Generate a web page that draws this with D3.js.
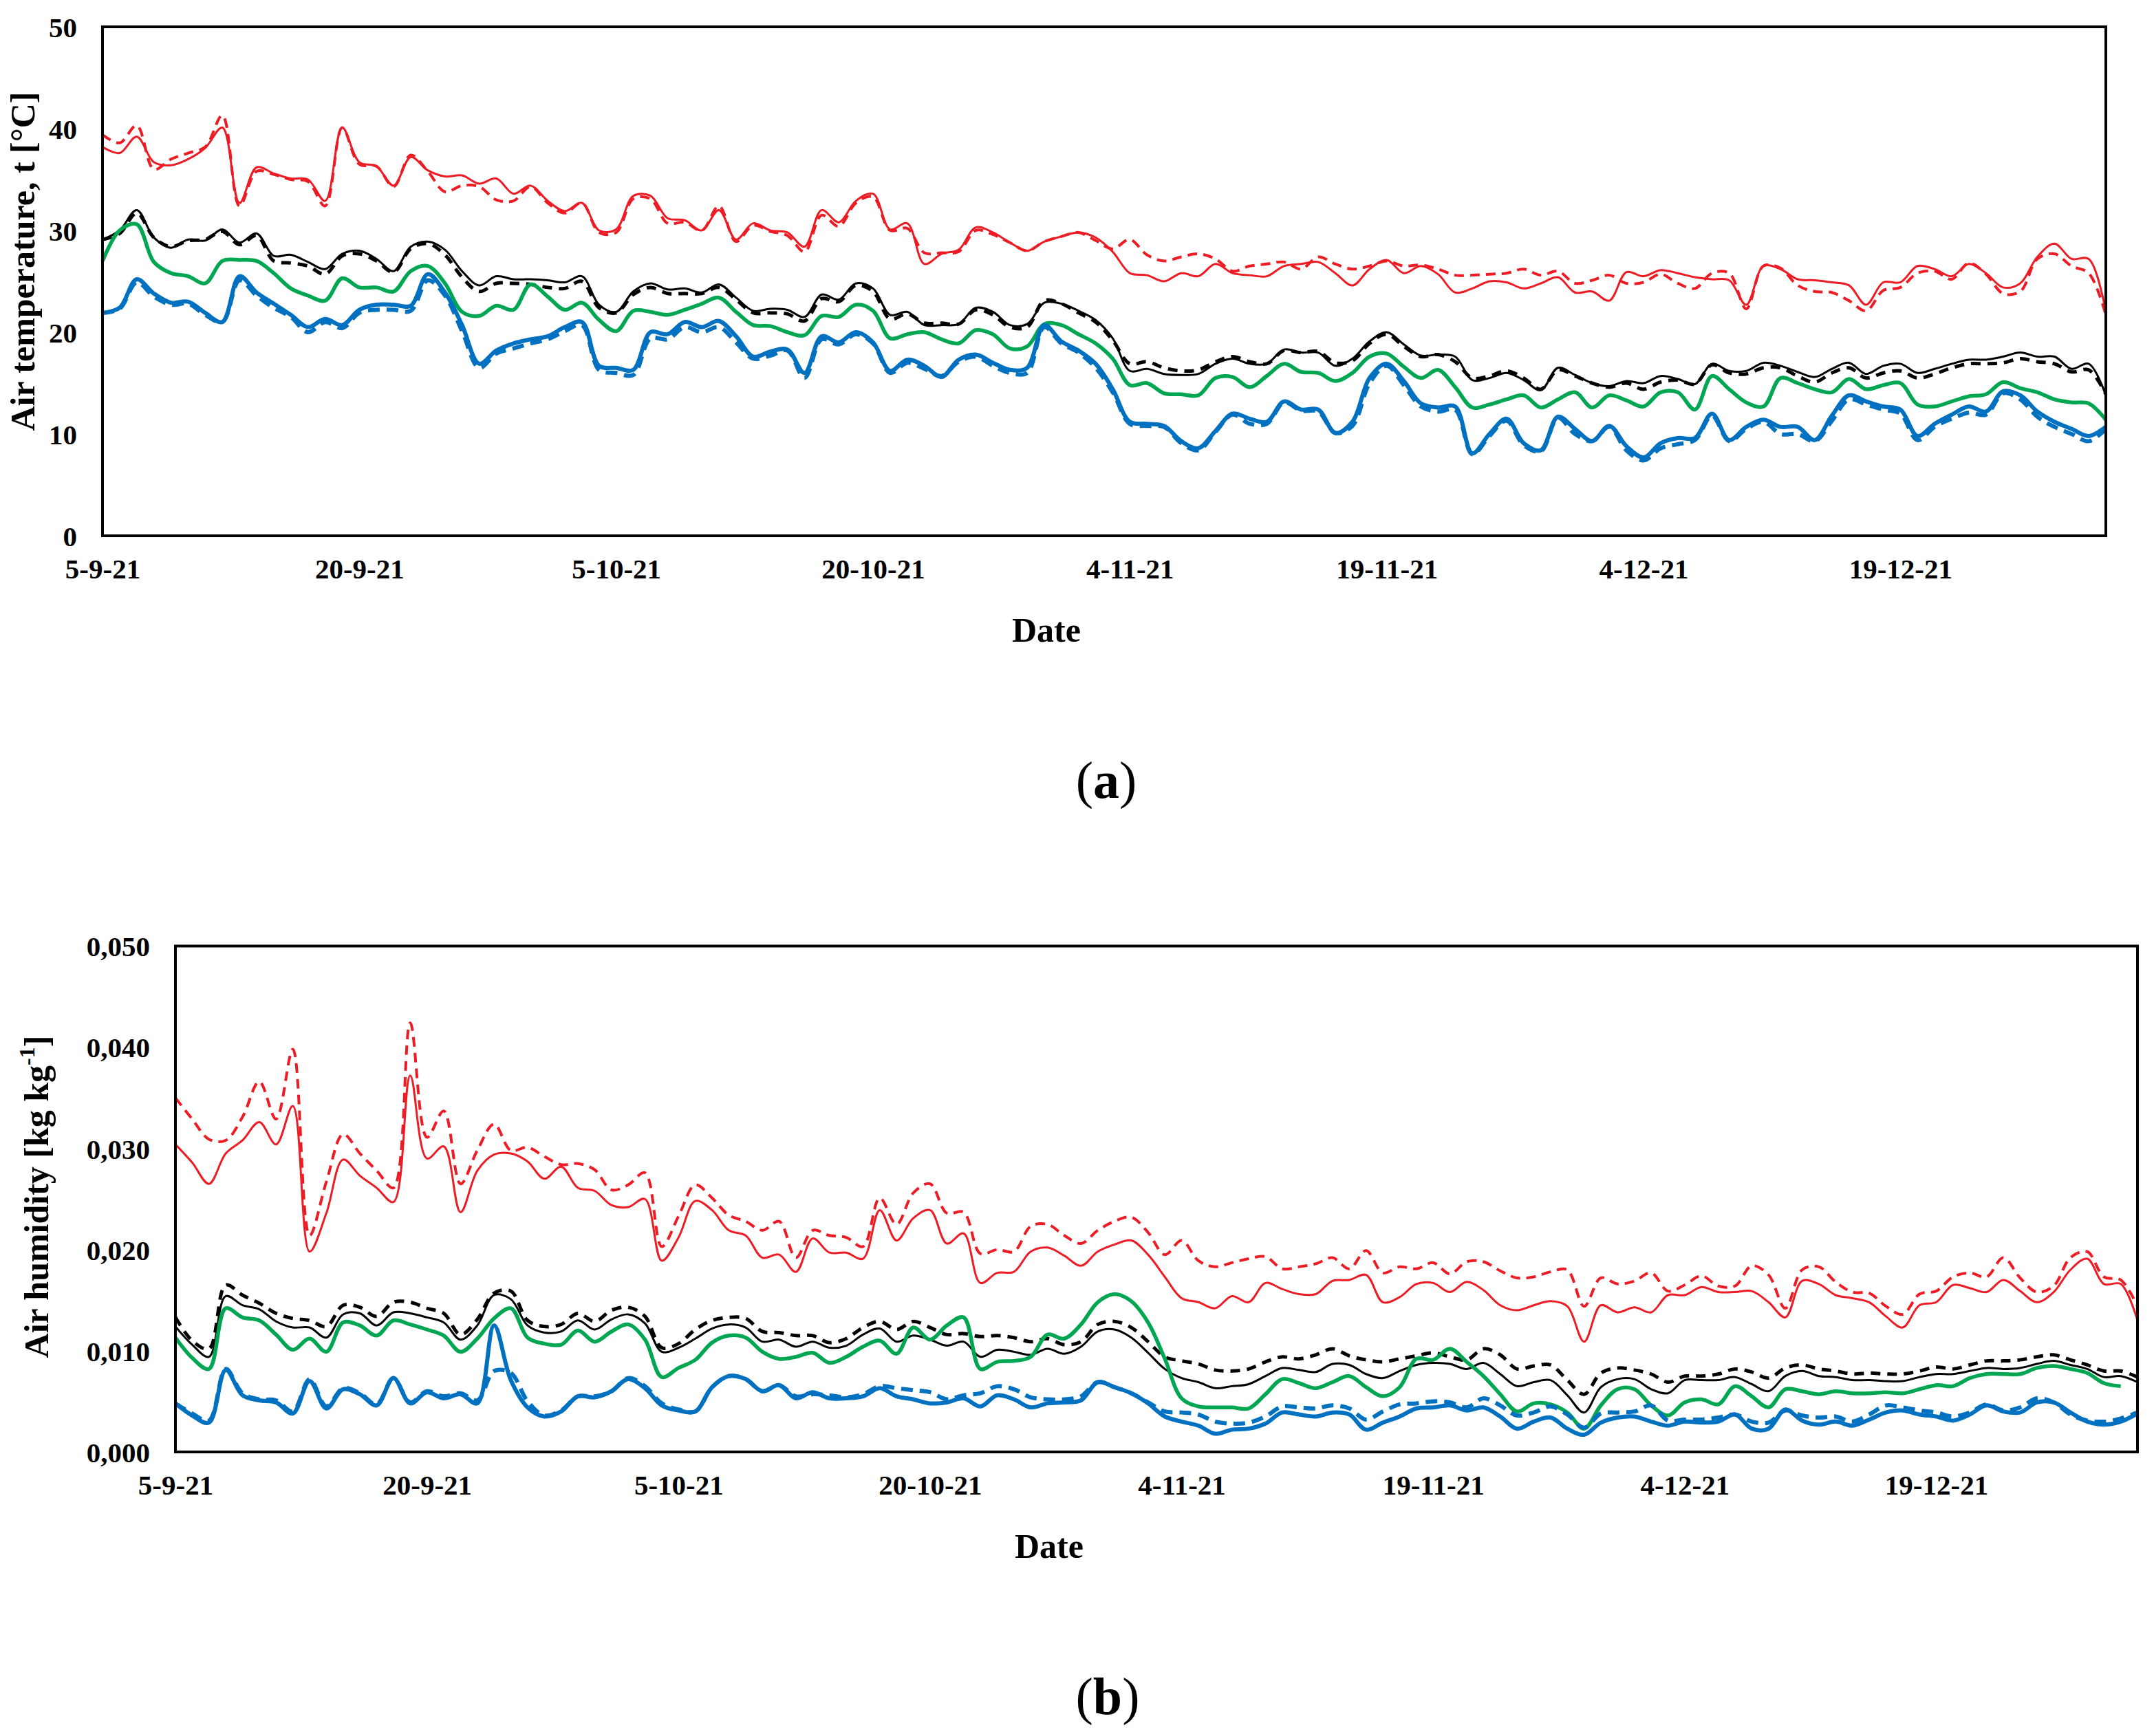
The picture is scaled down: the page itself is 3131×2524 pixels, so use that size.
<!DOCTYPE html>
<html><head><meta charset="utf-8">
<script src="https://cdn.jsdelivr.net/npm/d3@7"></script>
<style>
html,body{margin:0;padding:0;background:#fff;}
svg{display:block;}
text{font-family:"Liberation Serif","Times New Roman",serif;font-weight:bold;fill:#000;}
</style>
</head><body>
<svg id="chart" width="3131" height="2524"></svg>
<script>
// ---------- categories / ticks ----------
const startDate = "5-9-21";
const tickLabels = ["5-9-21","20-9-21","5-10-21","20-10-21","4-11-21","19-11-21","4-12-21","19-12-21"];
const endDate = "31-12-21";
const tempTicks = [0,10,20,30,40,50];
const humTicks = [0,0.01,0.02,0.03,0.04,0.05];

// ---------- (a) air temperature [°C], daily ----------
const tempRedSolid = [38.2,37.6,39.2,36.7,36.4,37.0,38.1,40.1,32.7,36.2,35.6,35.1,35.0,32.9,40.1,36.7,36.3,34.4,37.2,35.9,35.3,35.4,34.6,35.1,33.6,34.4,32.9,31.9,32.7,30.0,30.1,33.4,33.4,31.2,31.0,30.0,32.0,29.1,30.7,30.0,29.8,28.4,32.0,30.8,32.9,33.6,30.1,30.7,26.7,27.7,28.1,30.3,29.8,28.8,28.0,28.9,29.4,29.8,29.3,27.9,25.8,25.6,25.0,25.8,25.5,26.7,25.8,25.6,25.5,26.5,26.7,26.9,25.8,24.6,26.2,27.1,25.8,26.5,25.7,23.9,24.3,25.0,24.9,24.3,24.8,25.4,23.9,24.0,23.1,25.9,25.5,26.1,25.8,25.4,25.2,25.1,22.7,26.5,26.2,25.2,25.1,24.9,24.6,22.7,24.9,24.9,26.5,26.2,25.5,26.7,25.8,24.4,24.8,27.4,28.7,27.2,27.2,22.0];
const tempRedDashed = [39.4,38.6,40.3,36.0,37.0,37.6,38.2,41.3,32.4,35.8,35.5,35.0,34.8,32.4,40.1,36.5,36.3,34.3,37.4,35.8,33.8,34.4,34.3,33.0,32.9,34.3,32.7,31.7,32.7,29.8,29.8,33.1,33.1,30.7,30.8,30.0,32.4,28.9,30.5,29.9,29.5,27.9,31.5,30.4,32.7,33.3,30.0,30.2,27.8,27.8,27.9,30.0,29.6,28.8,28.0,28.9,29.4,29.8,29.0,28.2,29.1,27.6,27.0,27.4,27.7,27.2,26.0,26.5,26.7,26.9,26.2,27.4,26.7,26.2,26.5,27.0,26.5,26.6,26.2,25.6,25.6,25.7,25.8,26.2,25.6,26.0,24.8,25.1,25.6,24.8,24.9,25.7,24.8,24.3,25.8,25.8,22.3,26.5,26.3,24.6,24.0,23.9,23.1,22.1,24.1,24.4,25.8,26.0,25.2,26.8,25.7,23.8,24.0,27.2,27.7,26.5,25.8,21.7];
const tempBlackSolid = [29.1,30.0,32.0,29.3,28.3,29.1,29.0,30.1,28.8,29.7,27.5,27.6,26.9,26.2,27.7,28.0,27.2,26.0,28.4,28.9,28.1,26.0,24.6,25.5,25.2,25.2,25.1,24.9,25.5,22.7,22.0,24.0,24.8,24.2,24.3,23.9,24.7,23.4,22.1,22.3,22.2,21.5,23.7,23.2,24.8,24.3,21.7,22.0,20.7,20.7,20.8,22.4,22.0,20.7,20.8,22.9,22.8,22.1,21.2,19.4,16.2,16.4,15.9,15.8,15.9,16.9,17.4,16.9,16.9,18.3,18.0,18.0,16.7,17.4,19.1,20.0,18.8,17.7,17.8,17.6,15.3,15.5,16.0,15.3,14.3,16.5,15.8,15.0,14.7,15.2,15.0,15.7,15.4,14.9,16.9,16.2,16.2,17.0,16.7,16.1,15.6,16.4,17.0,15.9,16.7,16.9,16.0,16.4,16.9,17.3,17.3,17.6,18.0,17.6,17.6,16.4,16.9,13.8];
const tempBlackDashed = [29.1,29.7,31.7,29.3,28.4,29.0,29.1,29.9,28.6,29.5,27.0,26.8,26.5,25.7,27.5,27.7,27.0,25.9,28.2,28.7,27.6,25.4,24.0,24.8,24.8,24.7,24.4,24.3,25.0,22.4,21.9,23.7,24.4,23.8,23.8,23.8,24.4,23.2,21.9,21.9,21.8,21.1,23.3,23.0,24.6,24.0,21.3,21.8,20.9,20.9,20.8,22.2,21.7,20.5,20.5,23.1,22.8,21.9,21.0,19.2,16.9,17.1,16.5,16.2,16.3,17.1,17.6,17.1,16.9,18.2,18.0,18.1,17.0,17.2,18.9,19.8,18.6,17.6,17.8,17.1,15.5,15.7,16.2,15.5,14.4,16.3,15.7,15.0,14.6,15.0,14.4,15.1,15.3,14.9,16.8,16.0,15.9,16.5,16.5,15.7,15.1,16.0,16.5,15.5,16.0,16.2,15.5,15.9,16.5,16.9,16.9,17.0,17.4,17.1,16.9,16.1,16.3,13.9];
const tempGreen = [27.0,30.0,30.6,26.9,25.8,25.5,24.8,27.0,27.1,27.0,25.8,24.3,23.6,23.1,25.3,24.4,24.4,24.0,26.0,26.5,24.8,22.0,21.6,22.6,22.2,24.7,23.5,22.2,22.9,21.2,20.1,22.1,22.0,21.7,22.2,22.8,23.4,22.0,20.7,20.6,20.0,19.7,21.6,21.5,22.7,22.1,19.4,19.8,20.0,19.3,18.9,20.2,19.8,18.4,18.6,20.8,20.7,19.8,18.9,17.4,14.8,15.0,14.0,13.9,13.8,15.5,15.6,14.6,15.7,16.9,16.1,16.0,15.2,16.0,17.6,17.9,16.6,15.5,16.3,14.6,12.6,12.9,13.4,13.8,12.6,13.4,14.1,12.6,13.8,13.3,12.7,14.1,14.1,12.4,15.7,14.4,13.1,12.7,15.5,15.0,14.4,14.1,15.4,14.4,14.8,15.0,12.9,12.7,13.2,13.7,13.9,15.1,14.5,14.1,13.4,13.1,13.0,11.4];
const tempBlueSolid = [21.9,22.4,25.2,23.8,22.9,23.0,21.9,21.0,25.5,23.9,22.8,21.7,20.5,21.3,20.7,22.2,22.7,22.7,22.6,25.7,23.9,20.7,16.9,18.2,18.9,19.3,19.6,20.5,21.0,16.7,16.5,16.3,20.0,19.8,21.0,20.5,21.1,19.6,17.6,18.1,18.3,16.0,19.6,19.0,20.0,19.0,16.2,17.3,16.7,15.6,17.3,17.8,17.0,16.3,16.5,20.7,19.1,18.2,16.9,14.4,11.2,11.0,10.8,9.3,8.6,10.3,12.0,11.5,11.2,13.2,12.4,12.4,10.1,11.2,15.5,16.9,15.2,13.0,12.6,12.7,8.1,10.0,11.5,9.1,8.4,11.7,10.5,9.3,10.8,8.8,7.7,9.1,9.6,9.6,12.0,9.4,10.7,11.4,10.7,10.7,9.4,11.8,13.8,13.2,12.7,12.4,9.8,11.0,11.9,12.7,12.2,14.2,13.8,12.2,11.2,10.5,9.8,10.7];
const tempBlueDashed = [21.9,22.3,24.9,23.5,22.7,22.8,21.7,21.0,25.1,23.6,22.4,21.5,20.0,21.0,20.4,21.9,22.2,22.2,22.1,25.1,23.6,20.1,16.5,17.9,18.4,18.9,19.3,20.1,20.7,16.3,16.0,15.8,19.4,19.3,20.5,20.0,20.5,19.0,17.4,17.7,18.2,15.5,19.3,18.8,19.8,18.9,16.0,17.0,16.4,15.7,17.1,17.6,16.7,16.0,16.0,20.5,18.9,18.0,16.5,14.1,11.0,10.8,10.7,9.1,8.4,10.2,11.9,11.0,11.0,13.1,12.3,12.2,10.1,10.8,15.0,16.7,14.8,12.7,12.2,12.4,8.0,9.8,11.3,8.9,8.3,11.6,10.0,9.3,10.7,8.4,7.4,8.6,9.0,9.4,11.8,9.3,10.5,11.2,10.0,10.0,9.3,11.3,13.4,12.9,12.4,12.0,9.4,10.7,11.5,12.1,11.9,14.0,13.4,11.7,10.7,10.0,9.3,10.5];

// ---------- (b) air humidity [kg/kg], daily ----------
const humRedSolid = [0.0304,0.0286,0.0265,0.0295,0.0308,0.0326,0.0304,0.0342,0.0198,0.0236,0.0289,0.0273,0.0261,0.0247,0.0372,0.0290,0.0302,0.0237,0.0278,0.0294,0.0295,0.0287,0.0270,0.0282,0.0261,0.0258,0.0244,0.0242,0.0250,0.0189,0.0212,0.0248,0.0239,0.0219,0.0214,0.0192,0.0195,0.0178,0.0211,0.0197,0.0197,0.0191,0.0239,0.0209,0.0231,0.0239,0.0206,0.0216,0.0167,0.0177,0.0178,0.0198,0.0202,0.0194,0.0184,0.0198,0.0205,0.0209,0.0195,0.0173,0.0152,0.0148,0.0142,0.0154,0.0148,0.0167,0.0161,0.0156,0.0156,0.0169,0.0170,0.0175,0.0148,0.0153,0.0166,0.0167,0.0158,0.0168,0.0160,0.0145,0.0140,0.0145,0.0149,0.0144,0.0109,0.0145,0.0138,0.0143,0.0138,0.0155,0.0155,0.0163,0.0158,0.0158,0.0159,0.0148,0.0133,0.0169,0.0166,0.0155,0.0152,0.0148,0.0134,0.0123,0.0145,0.0148,0.0165,0.0162,0.0158,0.0170,0.0159,0.0148,0.0158,0.0180,0.0191,0.0166,0.0166,0.0130];
const humRedDashed = [0.0350,0.0329,0.0309,0.0308,0.0331,0.0366,0.0329,0.0398,0.0214,0.0267,0.0314,0.0295,0.0278,0.0261,0.0424,0.0311,0.0337,0.0265,0.0298,0.0324,0.0298,0.0301,0.0292,0.0284,0.0285,0.0279,0.0259,0.0264,0.0276,0.0203,0.0233,0.0264,0.0251,0.0234,0.0228,0.0219,0.0228,0.0192,0.0219,0.0214,0.0212,0.0203,0.0251,0.0225,0.0256,0.0265,0.0236,0.0237,0.0196,0.0200,0.0198,0.0223,0.0225,0.0214,0.0206,0.0219,0.0228,0.0232,0.0217,0.0195,0.0209,0.0189,0.0183,0.0187,0.0191,0.0193,0.0181,0.0183,0.0186,0.0192,0.0181,0.0199,0.0177,0.0183,0.0181,0.0187,0.0176,0.0188,0.0188,0.0179,0.0172,0.0173,0.0178,0.0180,0.0144,0.0172,0.0166,0.0169,0.0177,0.0159,0.0165,0.0174,0.0164,0.0164,0.0184,0.0175,0.0142,0.0180,0.0183,0.0168,0.0158,0.0157,0.0144,0.0136,0.0156,0.0159,0.0173,0.0177,0.0173,0.0192,0.0172,0.0158,0.0164,0.0192,0.0198,0.0173,0.0170,0.0144];
const humBlackSolid = [0.0124,0.0106,0.0094,0.0154,0.0145,0.0141,0.0129,0.0123,0.0123,0.0113,0.0136,0.0137,0.0125,0.0138,0.0137,0.0133,0.0128,0.0111,0.0125,0.0155,0.0151,0.0125,0.0118,0.0119,0.0130,0.0121,0.0131,0.0136,0.0127,0.0099,0.0103,0.0112,0.0122,0.0126,0.0123,0.0109,0.0111,0.0104,0.0109,0.0103,0.0105,0.0116,0.0122,0.0109,0.0115,0.0111,0.0105,0.0109,0.0094,0.0101,0.0099,0.0096,0.0102,0.0097,0.0104,0.0119,0.0121,0.0113,0.0098,0.0082,0.0073,0.0069,0.0063,0.0065,0.0067,0.0075,0.0083,0.0081,0.0079,0.0087,0.0086,0.0077,0.0073,0.0080,0.0086,0.0088,0.0087,0.0082,0.0088,0.0077,0.0065,0.0069,0.0071,0.0056,0.0039,0.0064,0.0072,0.0072,0.0062,0.0058,0.0071,0.0071,0.0071,0.0074,0.0067,0.0060,0.0075,0.0080,0.0075,0.0074,0.0071,0.0071,0.0070,0.0070,0.0074,0.0077,0.0077,0.0080,0.0083,0.0082,0.0083,0.0087,0.0090,0.0086,0.0082,0.0074,0.0075,0.0069];
const humBlackDashed = [0.0133,0.0110,0.0102,0.0165,0.0155,0.0147,0.0137,0.0132,0.0130,0.0124,0.0145,0.0143,0.0134,0.0148,0.0148,0.0142,0.0137,0.0116,0.0131,0.0157,0.0159,0.0130,0.0124,0.0126,0.0137,0.0129,0.0140,0.0143,0.0134,0.0103,0.0107,0.0121,0.0130,0.0133,0.0132,0.0119,0.0118,0.0115,0.0115,0.0108,0.0112,0.0123,0.0129,0.0121,0.0129,0.0123,0.0116,0.0117,0.0114,0.0115,0.0113,0.0109,0.0112,0.0106,0.0109,0.0126,0.0129,0.0123,0.0109,0.0094,0.0090,0.0087,0.0081,0.0080,0.0082,0.0089,0.0094,0.0092,0.0096,0.0102,0.0095,0.0091,0.0089,0.0092,0.0095,0.0098,0.0094,0.0091,0.0102,0.0096,0.0082,0.0085,0.0086,0.0071,0.0057,0.0078,0.0083,0.0081,0.0077,0.0069,0.0075,0.0075,0.0077,0.0082,0.0079,0.0073,0.0083,0.0086,0.0082,0.0080,0.0077,0.0078,0.0077,0.0077,0.0080,0.0084,0.0082,0.0086,0.0090,0.0090,0.0091,0.0094,0.0096,0.0091,0.0086,0.0080,0.0080,0.0074];
const humGreen = [0.0113,0.0093,0.0082,0.0142,0.0133,0.0130,0.0116,0.0101,0.0112,0.0099,0.0128,0.0125,0.0115,0.0130,0.0126,0.0121,0.0115,0.0099,0.0112,0.0132,0.0142,0.0113,0.0107,0.0106,0.0120,0.0109,0.0119,0.0126,0.0111,0.0074,0.0083,0.0091,0.0108,0.0115,0.0113,0.0099,0.0092,0.0094,0.0098,0.0088,0.0094,0.0104,0.0110,0.0097,0.0123,0.0111,0.0125,0.0133,0.0082,0.0089,0.0090,0.0094,0.0116,0.0112,0.0126,0.0148,0.0156,0.0149,0.0128,0.0092,0.0053,0.0045,0.0044,0.0044,0.0043,0.0057,0.0072,0.0068,0.0063,0.0069,0.0075,0.0064,0.0055,0.0064,0.0092,0.0091,0.0102,0.0089,0.0075,0.0057,0.0040,0.0048,0.0047,0.0039,0.0023,0.0046,0.0062,0.0062,0.0046,0.0036,0.0049,0.0052,0.0047,0.0065,0.0055,0.0044,0.0062,0.0060,0.0057,0.0060,0.0058,0.0058,0.0059,0.0058,0.0062,0.0066,0.0065,0.0073,0.0077,0.0077,0.0077,0.0083,0.0085,0.0082,0.0078,0.0068,0.0065];
const humBlueSolid = [0.0048,0.0036,0.0029,0.0081,0.0056,0.0051,0.0049,0.0038,0.0070,0.0043,0.0062,0.0057,0.0046,0.0073,0.0048,0.0059,0.0053,0.0057,0.0048,0.0125,0.0071,0.0044,0.0035,0.0040,0.0055,0.0054,0.0060,0.0072,0.0063,0.0046,0.0041,0.0040,0.0064,0.0075,0.0072,0.0060,0.0066,0.0053,0.0059,0.0053,0.0053,0.0055,0.0063,0.0055,0.0052,0.0048,0.0049,0.0053,0.0045,0.0056,0.0052,0.0044,0.0048,0.0049,0.0051,0.0069,0.0064,0.0058,0.0048,0.0035,0.0030,0.0026,0.0018,0.0022,0.0023,0.0028,0.0039,0.0037,0.0035,0.0039,0.0037,0.0022,0.0029,0.0035,0.0043,0.0044,0.0046,0.0041,0.0044,0.0035,0.0023,0.0030,0.0034,0.0023,0.0017,0.0029,0.0034,0.0035,0.0030,0.0026,0.0030,0.0029,0.0030,0.0037,0.0023,0.0023,0.0042,0.0031,0.0027,0.0030,0.0026,0.0032,0.0039,0.0041,0.0037,0.0035,0.0031,0.0037,0.0046,0.0040,0.0039,0.0049,0.0049,0.0039,0.0030,0.0027,0.0030,0.0038];
const humBlueDashed = [0.0048,0.0038,0.0031,0.0082,0.0058,0.0052,0.0051,0.0040,0.0072,0.0045,0.0063,0.0058,0.0047,0.0073,0.0049,0.0060,0.0055,0.0058,0.0051,0.0080,0.0078,0.0050,0.0036,0.0041,0.0055,0.0055,0.0060,0.0073,0.0065,0.0048,0.0042,0.0040,0.0064,0.0075,0.0072,0.0060,0.0066,0.0055,0.0057,0.0056,0.0054,0.0057,0.0065,0.0063,0.0061,0.0059,0.0052,0.0056,0.0058,0.0065,0.0062,0.0054,0.0052,0.0052,0.0055,0.0069,0.0064,0.0058,0.0049,0.0040,0.0039,0.0037,0.0030,0.0028,0.0029,0.0035,0.0045,0.0044,0.0043,0.0046,0.0043,0.0032,0.0040,0.0047,0.0048,0.0050,0.0049,0.0044,0.0053,0.0046,0.0036,0.0039,0.0045,0.0037,0.0024,0.0038,0.0039,0.0040,0.0046,0.0031,0.0032,0.0032,0.0034,0.0037,0.0030,0.0029,0.0041,0.0036,0.0034,0.0035,0.0030,0.0037,0.0046,0.0044,0.0041,0.0039,0.0035,0.0039,0.0047,0.0041,0.0044,0.0053,0.0049,0.0037,0.0031,0.0030,0.0033,0.0039];

// ---------- helpers ----------
const parseD = d3.utcParse("%d-%m-%y");
const t0 = parseD(startDate), t1 = parseD(endDate);
const tickDates = tickLabels.map(parseD);
const dayOf = i => d3.utcDay.offset(t0, i);

const RED = "#ED1C24", BLACK = "#000000", GREEN = "#00A651", BLUE = "#0070C0";
const styles = {
  redS:   {color: RED,   width: 3,   dash: null},
  redD:   {color: RED,   width: 4,   dash: "14,9"},
  blackS: {color: BLACK, width: 3,   dash: null},
  blackD: {color: BLACK, width: 5,   dash: "14,10"},
  green:  {color: GREEN, width: 5.5, dash: null},
  blueS:  {color: BLUE,  width: 6,   dash: null},
  blueD:  {color: BLUE,  width: 6,   dash: "17,10"}
};

const svg = d3.select("#chart");
svg.append("rect").attr("width", 3131).attr("height", 2524).attr("fill", "#fff");

function drawChart(cfg) {
  const g = svg.append("g");
  const x = d3.scaleUtc().domain([t0, t1]).range([cfg.left, cfg.right]);
  const y = d3.scaleLinear().domain([0, cfg.yMax]).range([cfg.bottom, cfg.top]);

  // series
  const line = d3.line()
    .x((d, i) => x(dayOf(i)))
    .y(d => y(d))
    .curve(d3.curveCatmullRom.alpha(0.5));
  cfg.series.forEach(s => {
    const st = styles[s.style];
    g.append("path")
      .datum(s.values)
      .attr("d", line)
      .attr("fill", "none")
      .attr("stroke", st.color)
      .attr("stroke-width", st.width)
      .attr("stroke-dasharray", st.dash)
      .attr("stroke-linejoin", "round");
  });

  // frame
  g.append("rect")
    .attr("x", cfg.left).attr("y", cfg.top)
    .attr("width", cfg.right - cfg.left).attr("height", cfg.bottom - cfg.top)
    .attr("fill", "none").attr("stroke", "#000").attr("stroke-width", 4);

  // x axis
  const xa = g.append("g").attr("transform", `translate(0,${cfg.bottom})`)
    .call(d3.axisBottom(x).tickValues(tickDates).tickFormat((d, i) => tickLabels[i]).tickSize(0));
  xa.select(".domain").remove();
  xa.selectAll("text").attr("y", 62).attr("dy", null)
    .style("font-size", "41px").style("font-family", '"Liberation Serif", serif').style("font-weight", "bold");

  // y axis
  const ya = g.append("g").attr("transform", `translate(${cfg.left},0)`)
    .call(d3.axisLeft(y).tickValues(cfg.yTicks).tickFormat(cfg.yFormat).tickSize(0));
  ya.select(".domain").remove();
  ya.selectAll("text").attr("x", -37).attr("dy", "0.35em")
    .style("font-size", "41px").style("font-family", '"Liberation Serif", serif').style("font-weight", "bold");

  // axis titles
  g.append("text").attr("x", cfg.dateX).attr("y", cfg.bottom + 154)
    .attr("text-anchor", "middle").style("font-size", "50px").text("Date");

  const yt = g.append("text")
    .attr("transform", `translate(${cfg.yTitleX},${cfg.yTitleY}) rotate(-90)`)
    .attr("text-anchor", "middle").style("font-size", "50px");
  cfg.yTitle(yt);

  // panel caption
  const cap = g.append("text").attr("x", cfg.capX).attr("y", cfg.bottom + 381)
    .attr("text-anchor", "middle")
    .style("font-size", "76px").style("font-weight", "normal");
  cap.append("tspan").text("(");
  cap.append("tspan").style("font-weight", "bold").text(cfg.capLetter);
  cap.append("tspan").text(")");
}

drawChart({
  left: 149, right: 3061, top: 39, bottom: 779, yMax: 50,
  yTicks: tempTicks, yFormat: d3.format("d"),
  series: [
    {values: tempRedSolid, style: "redS"},
    {values: tempRedDashed, style: "redD"},
    {values: tempBlackSolid, style: "blackS"},
    {values: tempBlackDashed, style: "blackD"},
    {values: tempGreen, style: "green"},
    {values: tempBlueSolid, style: "blueS"},
    {values: tempBlueDashed, style: "blueD"}
  ],
  dateX: 1521, yTitleX: 50, yTitleY: 380,
  yTitle: t => t.text("Air temperature, t [°C]"),
  capX: 1608, capLetter: "a"
});

drawChart({
  left: 255, right: 3107, top: 1375.5, bottom: 2111, yMax: 0.05,
  yTicks: humTicks, yFormat: v => d3.format(".3f")(v).replace(".", ","),
  series: [
    {values: humRedSolid, style: "redS"},
    {values: humRedDashed, style: "redD"},
    {values: humBlackSolid, style: "blackS"},
    {values: humBlackDashed, style: "blackD"},
    {values: humGreen, style: "green"},
    {values: humBlueSolid, style: "blueS"},
    {values: humBlueDashed, style: "blueD"}
  ],
  dateX: 1525, yTitleX: 70, yTitleY: 1740,
  yTitle: t => {
    t.append("tspan").text("Air humidity [kg kg");
    t.append("tspan").attr("dy", -20).style("font-size", "32px").text("-1");
    t.append("tspan").attr("dy", 20).text("]");
  },
  capX: 1610, capLetter: "b"
});
</script>
</body></html>
